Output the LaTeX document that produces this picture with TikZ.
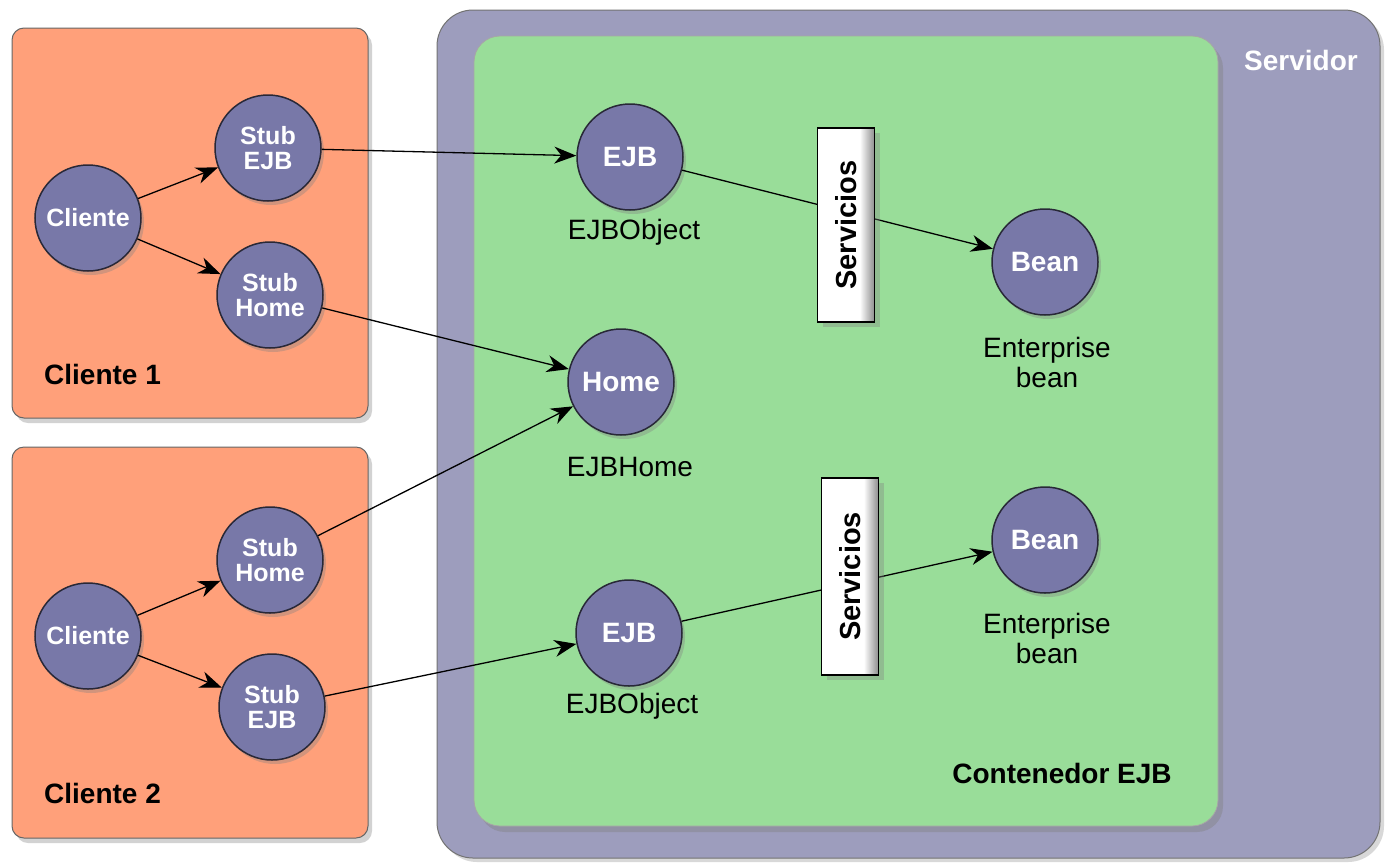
\documentclass[tikz,border=0pt]{standalone}
\usepackage{fontspec}
\setmainfont{Liberation Sans}
\usetikzlibrary{shadows,arrows.meta}
\definecolor{orangebox}{RGB}{255,160,122}
\definecolor{serverc}{RGB}{157,157,189}
\definecolor{cgreen}{RGB}{153,221,153}
\definecolor{ballc}{RGB}{120,120,168}
\definecolor{edgec}{RGB}{40,40,55}
\pgfdeclarehorizontalshading{servshade}{100bp}{color(0bp)=(white);color(25bp)=(white);color(62bp)=(white);color(75bp)=(black!45);color(100bp)=(black!45)}
\begin{document}
\begin{tikzpicture}[x=1pt,y=-1pt,
  clientbox/.style={draw=black!60, line width=1pt, fill=orangebox, rounded corners=12pt, inner sep=0pt,
    drop shadow={shadow xshift=4pt, shadow yshift=-5pt, opacity=0.35}},
  serverbox/.style={draw=black!55, line width=1pt, fill=serverc, rounded corners=36pt, inner sep=0pt,
    drop shadow={shadow xshift=4pt, shadow yshift=-4pt, opacity=0.3}},
  contbox/.style={draw=black!35, line width=0.8pt, fill=cgreen, rounded corners=26pt, inner sep=0pt,
    drop shadow={shadow xshift=5pt, shadow yshift=-6pt, opacity=0.4}},
  ball/.style={circle, minimum size=106pt, inner sep=0pt, fill=ballc, draw=edgec, line width=1.5pt,
    text=white, font=\bfseries\fontsize{25}{25}\selectfont, align=center,
    drop shadow={shadow xshift=3pt, shadow yshift=-4pt, opacity=0.35}},
  bigball/.style={ball, font=\bfseries\fontsize{28}{30}\selectfont},
  lbl/.style={font=\fontsize{28}{30}\selectfont, align=center, text=black},
  boxlbl/.style={font=\bfseries\fontsize{28}{30}\selectfont, text=black},
  servbox/.style={draw=black, line width=1.2pt, shading=servshade, minimum width=57pt, inner sep=0pt,
    drop shadow={shadow xshift=5pt, shadow yshift=-5pt, opacity=0.35}},
  servtxt/.style={rotate=90, font=\bfseries\fontsize{29}{30}\selectfont},
  arr/.style={-{Stealth[length=22pt,width=17pt,inset=7pt]}, line width=1.3pt, black}
]
\useasboundingbox (0,0) rectangle (1386,863);
\fill[white] (0,0) rectangle (1386,863);

% containers
\node[serverbox, minimum width=943pt, minimum height=848pt] (srv) at (908.5,434) {};
\node[contbox, minimum width=744pt, minimum height=790pt] (cont) at (846,431) {};
\node[clientbox, minimum width=356pt, minimum height=390pt] (box1) at (190,223) {};
\node[clientbox, minimum width=356pt, minimum height=391pt] (box2) at (190,642.5) {};

\node[font=\bfseries\fontsize{28}{30}\selectfont, text=white] (srvlbl) at (1301,60) {Servidor};
\node[boxlbl] (contlbl) at (1062,773) {Contenedor EJB};
\node[boxlbl, anchor=west, inner sep=0pt] (c1lbl) at (44,374) {Cliente 1};
\node[boxlbl, anchor=west, inner sep=0pt] (c2lbl) at (44,793) {Cliente 2};

% balls
\node[ball] (cl1) at (88,218) {Cliente};
\node[ball] (se1) at (268,148) {Stub\\EJB};
\node[ball] (sh1) at (270,295) {Stub\\Home};
\node[ball] (cl2) at (88,636) {Cliente};
\node[ball] (sh2) at (270,560) {Stub\\Home};
\node[ball] (se2) at (272,707) {Stub\\EJB};
\node[bigball] (ejb1) at (630,157) {EJB};
\node[bigball] (home) at (621,382) {Home};
\node[bigball] (ejb2) at (629,633) {EJB};
\node[bigball] (bean1) at (1045,262) {Bean};
\node[bigball] (bean2) at (1045,540) {Bean};

% labels
\node[lbl] (l1) at (634,232) {EJBObject};
\node[lbl] (l2) at (630,467) {EJBHome};
\node[lbl] (l3) at (632,706) {EJBObject};
\node[lbl] (l4) at (1047,362) {Enterprise\\bean};
\node[lbl] (l5) at (1047,638) {Enterprise\\bean};

% connectors
\draw[arr] (cl1) -- (se1);
\draw[arr] (cl1) -- (sh1);
\draw[arr] (cl2) -- (sh2);
\draw[arr] (cl2) -- (se2);
\draw[arr] (se1) -- (ejb1);
\draw[arr] (sh1) -- (home);
\draw[arr] (sh2) -- (home);
\draw[arr] (se2) -- (ejb2);
\draw[arr] (ejb1) -- (bean1);
\draw[arr] (ejb2) -- (bean2);

% services
\node[servbox, minimum height=194pt] (sv1) at (846,225) {};
\node[servtxt] (sv1t) at (sv1.center) {Servicios};
\node[servbox, minimum height=197pt] (sv2) at (850,576.5) {};
\node[servtxt] (sv2t) at (sv2.center) {Servicios};
\end{tikzpicture}
\end{document}
